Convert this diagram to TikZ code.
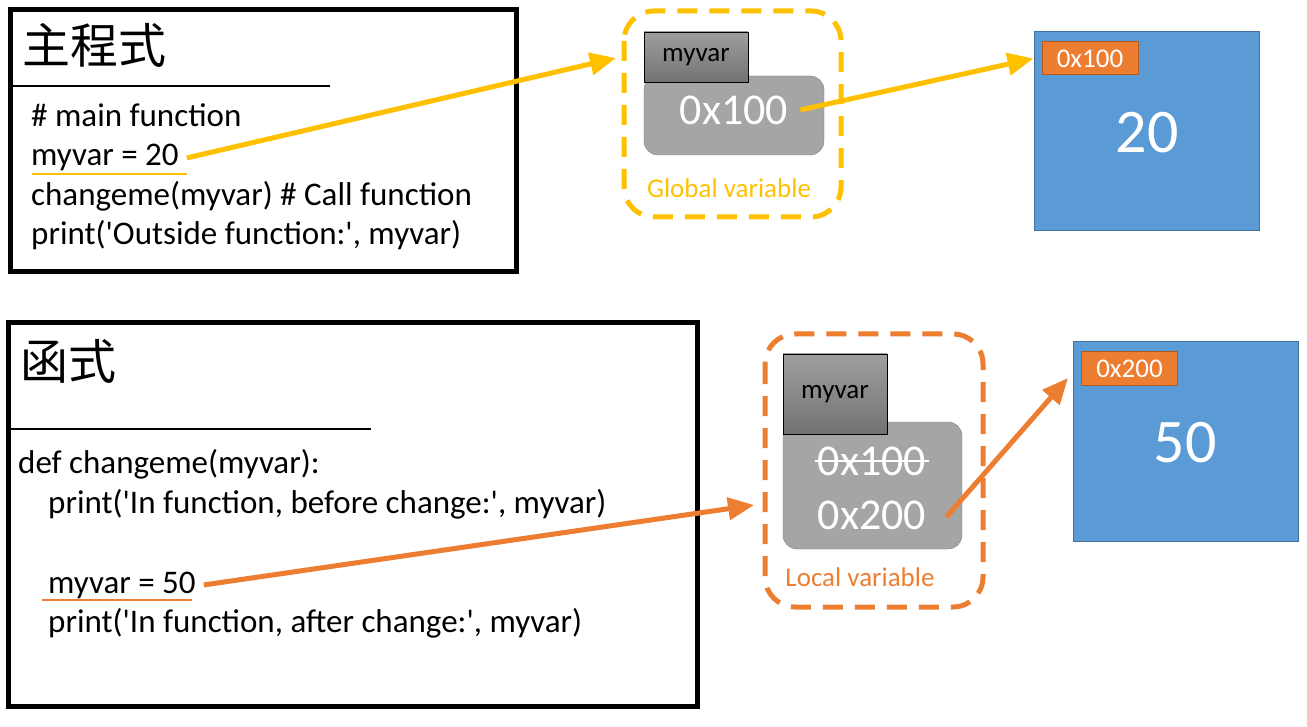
\documentclass[tikz,border=0pt]{standalone}
\usepackage{fontspec}
\usetikzlibrary{arrows.meta}
\setmainfont{Carlito}
\newfontfamily\cjk{Noto Sans CJK TC}
\definecolor{gold}{HTML}{FFC000}
\definecolor{tangerine}{HTML}{ED7D31}
\definecolor{tangerinedark}{HTML}{AE5A21}
\definecolor{steel}{HTML}{5B9BD5}
\definecolor{steeldark}{HTML}{41719C}
\definecolor{slate}{HTML}{A5A5A5}
\definecolor{slatedark}{HTML}{7F7F7F}
\newcommand{\fs}[1]{\fontsize{#1}{#1}\selectfont}
\newcommand{\q}{\textquotesingle}
\tikzset{
    codebox/.style={draw=black, line width=5pt},
    titlerule/.style={draw=black, line width=2pt},
    codeline/.style={anchor=base west, inner sep=0pt, font=\fs{33}},
    cjktitle/.style={anchor=base west, inner sep=0pt, font=\cjk\fs{48}},
    scopebox/.style={draw=#1, line width=5pt, rounded corners=30pt,
        dash pattern=on 20pt off 12pt},
    varname/.style={draw=black, line width=0.8pt, top color=black!38,
        bottom color=black!55, font=\fs{27}, inner sep=0pt},
    addrbox/.style={draw=slatedark, fill=slate, rounded corners=14pt, inner sep=0pt},
    addrtext/.style={text=white, font=\fs{44}, inner sep=0pt},
    membox/.style={draw=steeldark, line width=1pt, fill=steel, inner sep=0pt},
    memaddr/.style={draw=tangerinedark, line width=1pt, fill=tangerine,
        text=white, font=\fs{27}, inner sep=0pt},
    memval/.style={text=white, font=\fs{62}, inner sep=0pt},
    pointer/.style={draw=#1, line width=5pt,
        -{Triangle[length=26pt, width=22pt]}},
}
\begin{document}
\begin{tikzpicture}[x=1pt, y=-1pt]
\useasboundingbox (0,0) rectangle (1307,727);

% main program
\draw[codebox] (10,10) rectangle (516,272);
\node[cjktitle] (maintitle) at (22,64) {主程式};
\draw[titlerule] (12,86) -- (330,86);
\node[codeline] (m1) at (31,127) {\# main function};
\node[codeline] (m2) at (31,166) {myvar = 20};
\node[codeline] (m3) at (31,206) {changeme(myvar) \# Call function};
\node[codeline] (m4) at (31,245) {print(\q Outside function:\q, myvar)};
\draw[gold, line width=1.5pt] (32,174) -- (187,174);

% global scope
\draw[scopebox=gold] (624,11) rectangle (841,217);
\node[addrbox, minimum width=180pt, minimum height=79pt] (gaddrbox) at (734,115.5) {};
\node[varname, minimum width=104pt, minimum height=50pt] (gname) at (696,57) {myvar};
\node[addrtext] (gaddr) at (734,110) {0x100};
\node[text=gold, font=\fs{27}, inner sep=0pt] (gscope) at (729,188) {Global variable};

\node[membox, minimum width=225pt, minimum height=199pt] (gmem) at (1146.5,131.5) {};
\node[memaddr, minimum width=96pt, minimum height=33pt] (gmemaddr) at (1090,58.5) {0x100};
\node[memval] (gval) at (1147,133) {20};

\draw[pointer=gold] ([xshift=8pt]m2.east) -- (616,58);
\draw[pointer=gold] ([xshift=12pt]gaddr.east) -- (gmem.west |- gmemaddr);

% function
\draw[codebox] (8,323) rectangle (697,706);
\node[cjktitle] (functitle) at (20,379) {函式};
\draw[titlerule] (10,429) -- (371,429);
\node[codeline] (f1) at (18,473) {def changeme(myvar):};
\node[codeline] (f2) at (48,513) {print(\q In function, before change:\q, myvar)};
\node[codeline] (f3) at (48,593) {myvar = 50};
\node[codeline] (f4) at (48,632) {print(\q In function, after change:\q, myvar)};
\draw[tangerine, line width=1.5pt] (42,600) -- (192,600);

% local scope
\draw[scopebox=tangerine] (765,334) rectangle (983,607);
\node[addrbox, minimum width=179pt, minimum height=127pt] (laddrbox) at (872.5,485.5) {};
\node[varname, minimum width=104pt, minimum height=80pt] (lname) at (835,394) {myvar};
\node[addrtext] (lold) at (872,461) {0x100};
\draw[white, line width=2pt] ([xshift=-3pt]lold.west) -- ([xshift=3pt]lold.east);
\node[addrtext] (lnew) at (872,515) {0x200};
\node[text=tangerine, font=\fs{27}, inner sep=0pt] (lscope) at (860,577) {Local variable};

\node[membox, minimum width=225pt, minimum height=199pt] (lmem) at (1185.5,441.5) {};
\node[memaddr, minimum width=96pt, minimum height=33pt] (lmemaddr) at (1129.5,368.5) {0x200};
\node[memval] (lval) at (1185,443) {50};

\draw[pointer=tangerine] ([xshift=8pt]f3.east) -- (754,505);
\draw[pointer=tangerine] ([xshift=20pt, yshift=-2pt]lnew.east) -- (1068,378);
\end{tikzpicture}
\end{document}
